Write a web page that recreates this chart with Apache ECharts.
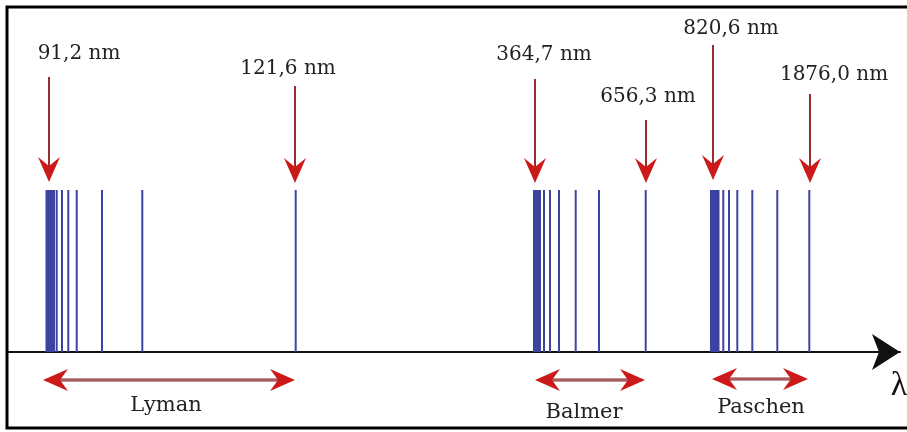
<!DOCTYPE html>
<html>
<head>
<meta charset="utf-8">
<script src="https://cdn.jsdelivr.net/npm/echarts@6/dist/echarts.min.js"></script>
<style>html,body{margin:0;padding:0;background:#fff;}#c{width:907px;height:432px;}</style>
</head>
<body>
<div id="c"></div>
<script>
// Schematic positions along the wavelength axis (not to scale, as in the original diagram)
const lymanLines   = [46.5, 48, 49.5, 51, 52.5, 54, 56.7, 62, 68.3, 76.7, 102, 142.3, 295.7];
const balmerLines  = [534, 535.5, 537, 538.5, 540, 544, 550, 559, 575.7, 599, 645.7];
const paschenLines = [711, 712.5, 714, 715.5, 717, 718.5, 723.3, 729, 737.3, 752.3, 777.3, 809.3];
const lineHeight = 162;

// Series limits / first lines (labelled arrows)
const markerLabels = ['91,2 nm', '121,6 nm', '364,7 nm', '656,3 nm', '820,6 nm', '1876,0 nm'];
const markerX      = [49, 295, 535, 646, 713, 810];
const markerTop    = [275, 266, 273, 232, 307, 258];
const markerTip    = [170, 169, 169, 169, 172, 169];
const markerLabelX = [79, 288, 544, 648, 731, 834];
const markerLabelY = [298, 283, 297, 255, 323, 277];

// Series ranges
const seriesNames  = ['Lyman', 'Balmer', 'Paschen'];
const rangeStart   = [43, 535, 712];
const rangeEnd     = [295, 645, 808];
const rangeY       = [-28, -28, -27];
const nameX        = [166, 584, 761];
const nameY        = [-54, -61, -56];

const allLines = lymanLines.concat(balmerLines, paschenLines).map(x => [x, lineHeight]);

const chart = echarts.init(document.getElementById('c'), null, {renderer: 'canvas'});

const serif = '"DejaVu Serif", serif';
const headColor = '#cc1a1a';
const shaftColor = '#9a2e2e';

function vArrow(params, api) {
  const i = params.dataIndex;
  const top = api.coord([markerX[i], markerTop[i]]);
  const tip = api.coord([markerX[i], markerTip[i]]);
  const lab = api.coord([markerLabelX[i], markerLabelY[i]]);
  const x = tip[0], ty = tip[1];
  return {
    type: 'group',
    children: [
      {type: 'line', shape: {x1: x, y1: top[1], x2: x, y2: ty - 12}, style: {stroke: shaftColor, lineWidth: 2}},
      {type: 'polygon', shape: {points: [[x, ty], [x - 11, ty - 25], [x, ty - 16], [x + 11, ty - 25]]},
        style: {fill: headColor}},
      {type: 'text', style: {text: markerLabels[i], x: lab[0], y: lab[1], align: 'center', verticalAlign: 'middle',
        fontSize: 20, fontFamily: serif, fill: '#222'}}
    ]
  };
}

function hArrow(params, api) {
  const i = params.dataIndex;
  const a = api.coord([rangeStart[i], rangeY[i]]);
  const b = api.coord([rangeEnd[i], rangeY[i]]);
  const n = api.coord([nameX[i], nameY[i]]);
  const y = a[1], x1 = a[0], x2 = b[0];
  return {
    type: 'group',
    children: [
      {type: 'line', shape: {x1: x1 + 12, y1: y, x2: x2 - 12, y2: y}, style: {stroke: '#8a2a2a', lineWidth: 3}},
      {type: 'line', shape: {x1: x1 + 12, y1: y, x2: x2 - 12, y2: y}, style: {stroke: '#c98a8a', lineWidth: 1}},
      {type: 'polygon', shape: {points: [[x1, y], [x1 + 25, y - 11], [x1 + 17, y], [x1 + 25, y + 11]]}, style: {fill: headColor}},
      {type: 'polygon', shape: {points: [[x2, y], [x2 - 25, y - 11], [x2 - 17, y], [x2 - 25, y + 11]]}, style: {fill: headColor}},
      {type: 'text', style: {text: seriesNames[i], x: n[0], y: n[1], align: 'center', verticalAlign: 'middle',
        fontSize: 21, fontFamily: serif, fill: '#222'}}
    ]
  };
}

chart.setOption({
  animation: false,
  backgroundColor: '#fff',
  grid: {left: 8, right: 7, top: 0, bottom: 0},
  xAxis: {
    type: 'value', min: 8, max: 900,
    axisLine: {show: true, onZero: true, lineStyle: {color: '#111', width: 2},
      symbol: ['none', 'arrow'], symbolSize: [27, 28]},
    axisTick: {show: false}, axisLabel: {show: false}, splitLine: {show: false}
  },
  yAxis: {
    type: 'value', min: -80, max: 352, show: false,
    axisLine: {show: false}, splitLine: {show: false}
  },
  graphic: [
    {type: 'rect', shape: {x: 7, y: 7, width: 910, height: 421}, style: {fill: 'none', stroke: '#000', lineWidth: 3}, z: 100},
    {type: 'text', style: {text: 'λ', x: 899, y: 386, align: 'center', verticalAlign: 'middle',
      fontSize: 34, fontFamily: '"Liberation Serif", serif', fill: '#111'}}
  ],
  series: [
    {
      type: 'custom', clip: false, data: allLines,
      renderItem: (params, api) => {
        const p0 = api.coord([api.value(0), 0]);
        const p1 = api.coord([api.value(0), api.value(1)]);
        return {type: 'line', shape: {x1: p0[0], y1: p0[1], x2: p1[0], y2: p1[1]},
          style: {stroke: '#3d43a0', lineWidth: 2}};
      }
    },
    {type: 'custom', clip: false, data: markerX.map((x, i) => [x, markerTop[i]]), renderItem: vArrow},
    {type: 'custom', clip: false, data: rangeStart.map((x, i) => [x, rangeY[i]]), renderItem: hArrow}
  ]
});
</script>
</body>
</html>
